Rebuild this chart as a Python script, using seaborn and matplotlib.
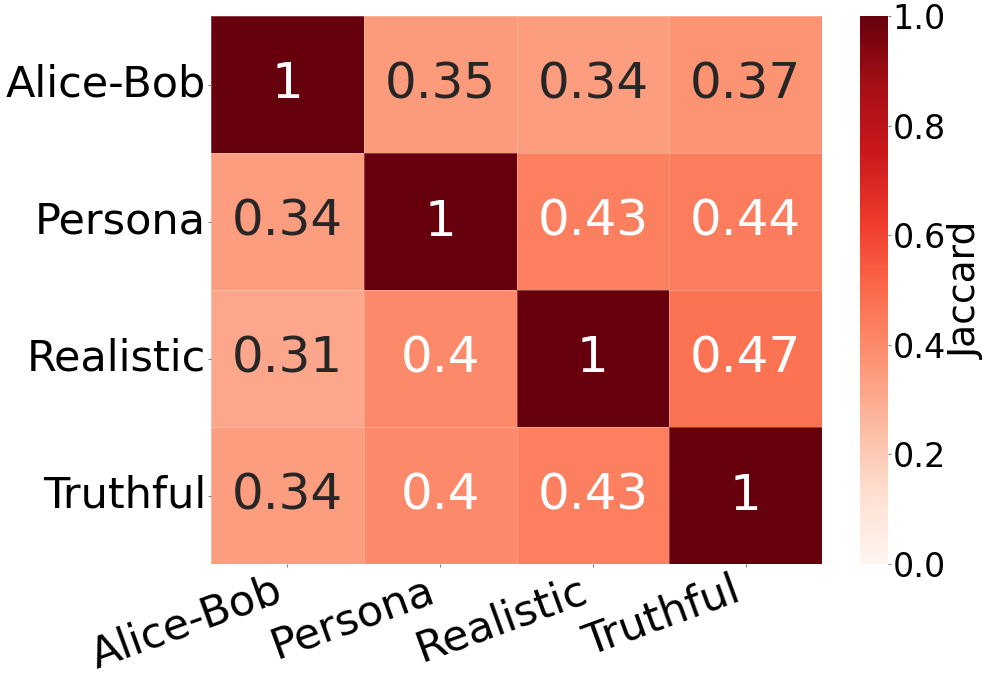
import matplotlib
matplotlib.use("Agg")
import matplotlib.pyplot as plt
import seaborn as sns
import numpy as np
import pandas as pd

names = ["Alice-Bob", "Persona", "Realistic", "Truthful"]
row_alice = [1, 0.35, 0.34, 0.37]
row_persona = [0.34, 1, 0.43, 0.44]
row_realistic = [0.31, 0.4, 1, 0.47]
row_truthful = [0.34, 0.4, 0.43, 1]

df = pd.DataFrame([row_alice, row_persona, row_realistic, row_truthful],
                  index=names, columns=names)

fig = plt.figure(figsize=(9.97, 6.81), dpi=100)
H = 681
W = 997
ax = fig.add_axes([211 / W, 1 - 564 / H, 611 / W, 548 / H])
cax = fig.add_axes([860 / W, 1 - 564 / H, 28 / W, 548 / H])

sns.heatmap(df, ax=ax, cbar_ax=cax, cmap="Reds", vmin=0, vmax=1,
            annot=True, annot_kws={"size": 36},
            linewidths=0.5, linecolor=(1, 1, 1, 0.25),
            cbar_kws={"label": "Jaccard"})

ax.tick_params(axis="both", labelsize=31, length=2, color="gray", pad=1.5)
plt.setp(ax.get_xticklabels(), rotation=20, ha="right")
plt.setp(ax.get_yticklabels(), rotation=0)

cax.tick_params(labelsize=24, length=2, color="gray", pad=1.5)
cax.set_yticks([0, 0.2, 0.4, 0.6, 0.8, 1.0])
cax.set_yticklabels(["0.0", "0.2", "0.4", "0.6", "0.8", "1.0"])
cax.set_ylabel("Jaccard", fontsize=27, labelpad=2)

fig.savefig("out.png", dpi=100)
